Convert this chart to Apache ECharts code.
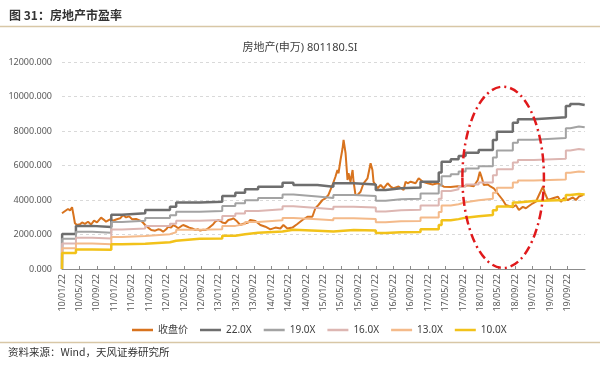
<!DOCTYPE html>
<html><head><meta charset="utf-8">
<script src="https://cdn.jsdelivr.net/npm/echarts@6/dist/echarts.min.js"></script>
<style>html,body{margin:0;padding:0;background:#fff}#c{width:600px;height:368px}</style>
</head><body><div id="c"></div>
<script>
// ---- Data ----
const figureTitle = '图 31：房地产市盈率';
const chartTitle = '房地产(申万) 801180.SI';
const sourceNote = '资料来源：Wind，天风证券研究所';
const seriesNames = ['收盘价', '22.0X', '19.0X', '16.0X', '13.0X', '10.0X'];

const priceDates = [
'2010-01-22','2010-02-06','2010-02-19','2010-03-03','2010-03-17','2010-04-01','2010-04-11','2010-04-21','2010-05-05','2010-05-26','2010-06-10','2010-06-30','2010-07-21','2010-08-12','2010-09-02','2010-09-23','2010-10-21','2010-11-11','2010-11-25','2010-12-23',
'2011-01-13','2011-02-04','2011-03-02','2011-03-22','2011-04-13','2011-05-04','2011-05-25','2011-06-22','2011-07-20','2011-08-04','2011-08-24','2011-09-15','2011-10-06','2011-11-03','2011-11-24','2011-12-08','2011-12-28',
'2012-01-19','2012-02-03','2012-02-23','2012-03-07','2012-03-28','2012-04-12','2012-05-02','2012-05-16','2012-06-07','2012-06-28','2012-07-18','2012-08-09','2012-08-29','2012-09-13','2012-10-04','2012-10-18','2012-11-08','2012-11-22','2012-12-13','2012-12-27',
'2013-01-17','2013-02-01','2013-02-15','2013-03-06','2013-03-27','2013-04-17','2013-05-01','2013-05-22','2013-06-19','2013-07-10','2013-07-24','2013-08-14','2013-08-28','2013-10-03','2013-11-07','2013-12-12',
'2014-01-16','2014-02-21','2014-03-25','2014-04-16','2014-05-13','2014-06-18','2014-07-22','2014-08-27','2014-10-01','2014-11-05','2014-11-26','2014-12-17',
'2015-01-15','2015-02-05','2015-02-26','2015-03-24','2015-04-14','2015-04-28','2015-05-05','2015-05-19','2015-06-03','2015-06-10','2015-06-24','2015-07-07','2015-07-14','2015-07-28','2015-08-12','2015-08-19','2015-09-02','2015-09-16','2015-10-07','2015-10-28','2015-11-25','2015-12-16','2015-12-29',
'2016-01-06','2016-02-04','2016-02-25','2016-03-16','2016-04-13','2016-05-04','2016-05-25','2016-06-29','2016-08-03','2016-08-17','2016-09-01','2016-09-22','2016-10-26','2016-11-17','2016-12-15',
'2017-01-19','2017-02-23','2017-03-28','2017-04-19','2017-05-10','2017-06-28','2017-08-16','2017-09-20','2017-10-25','2017-12-06',
'2018-01-04','2018-01-18','2018-02-01','2018-02-15','2018-03-13','2018-04-03','2018-04-24','2018-05-29','2018-06-26','2018-07-17','2018-08-07','2018-09-05','2018-09-26','2018-10-17','2018-11-14','2018-12-05','2018-12-26',
'2019-01-23','2019-02-14','2019-03-05','2019-04-02','2019-04-16','2019-05-06','2019-06-11','2019-07-16','2019-08-06','2019-08-27','2019-09-24','2019-10-29','2019-11-19','2019-12-10','2020-01-08'
];
const priceValues = [
3230,3320,3250,3480,3400,3580,3130,2650,2550,2600,2700,2620,2740,2580,2800,2700,2980,2850,2740,2880,
2800,2870,2940,3130,2990,3050,2880,2900,2800,2740,2550,2400,2260,2220,2300,2280,2160,
2300,2450,2400,2550,2450,2360,2480,2550,2480,2400,2350,2260,2300,2230,2280,2260,2350,2450,2600,2740,
2840,2780,2700,2650,2840,2880,2940,2800,2550,2620,2650,2700,2840,2780,2550,2450,
2300,2400,2350,2550,2350,2400,2610,2840,3030,3030,3520,3710,
4000,4100,4290,4870,5350,5740,5550,6320,7000,7480,6710,5160,5550,5060,5740,5060,4290,4290,4480,4970,5260,6130,5740,
5060,4680,4870,4680,4970,4780,4680,4780,4580,5060,4970,5060,4970,5260,5060,
4970,4900,4970,4870,4770,4750,4800,4770,4850,4800,
5160,5640,5300,4870,4900,4770,4680,4290,4000,3710,3650,3580,3710,3420,3600,3520,3650,
3810,3900,4290,4770,4400,4000,4100,4190,3900,4100,4000,4150,4000,4200,4290
];

const bandDates = [
'2010-01-22','2010-01-23','2010-04-28','2010-08-20','2011-01-01','2011-03-15','2011-08-25','2012-02-15','2012-03-28','2012-09-10',
'2013-02-15','2013-05-15','2013-07-22','2013-10-22','2014-04-10','2014-06-25','2014-12-10','2015-03-30','2015-08-20','2016-01-22',
'2016-03-30','2016-07-15','2016-11-30','2017-04-05','2017-04-25','2017-06-28','2017-08-22','2017-10-10','2018-01-10','2018-04-18',
'2018-05-15','2018-09-05','2018-10-10','2019-01-30','2019-09-10','2019-10-10','2019-12-10','2020-01-20'
];
const band22 = [0,2030,2500,2440,3150,3230,3420,3610,3850,3900,4230,4420,4620,4770,5000,4870,4770,4970,4900,4580,4680,4720,5060,5600,6220,6360,6550,6740,6900,7480,7960,8480,8680,8790,9450,9570,9510,9510];
const band19 = [0,1753,2159,2107,2720,2790,2954,3118,3325,3368,3653,3817,3990,4120,4318,4206,4120,4292,4232,3955,4042,4076,4370,4836,5372,5493,5657,5821,5959,6460,6875,7324,7496,7591,8161,8265,8213,8213];
const band16 = [0,1476,1818,1775,2291,2349,2487,2625,2800,2836,3076,3215,3360,3469,3636,3542,3469,3615,3564,3331,3404,3433,3680,4073,4524,4625,4764,4902,5018,5440,5789,6167,6313,6393,6873,6960,6916,6916];
const band13 = [0,1200,1477,1442,1861,1909,2021,2133,2275,2305,2500,2612,2730,2819,2955,2878,2819,2937,2895,2706,2765,2789,2990,3309,3675,3758,3870,3983,4077,4420,4704,5011,5129,5194,5584,5655,5620,5620];
const band10 = [0,923,1136,1109,1432,1468,1555,1641,1750,1773,1923,2009,2100,2168,2273,2214,2168,2259,2227,2082,2127,2145,2300,2545,2827,2891,2977,3064,3136,3400,3618,3855,3945,3995,4295,4350,4323,4323];

// annotation ellipse bounds (date range, value range)
const ellipseFrom = '2017-09-18', ellipseTo = '2019-04-09', ellipseLow = 60, ellipseHigh = 10570;

// ---- Helpers ----
function toM(s){ const p = s.split('-').map(Number); return (p[0]-2010)*12 + (p[1]-1) + (p[2]-22)/30.44; }
function pairs(dates, vals){ return dates.map((d,i)=>[toM(d), vals[i]]); }
function xLabel(v){ const yy = 10 + Math.floor(v/12); const mm = (v % 12) + 1; return yy + '/' + String(mm).padStart(2,'0') + '/22'; }

const colors = ['#D8731E','#6E6E6E','#A3A3A3','#DDB6B2','#F4BA8A','#F2C21A'];
const widths = [2, 2.5, 2, 2, 2, 2.5];
const bands = [band22, band19, band16, band13, band10];

const chart = echarts.init(document.getElementById('c'), null, {renderer:'canvas'});
const series = [{
  name: seriesNames[0], type: 'line', symbol: 'none', animation: false,
  data: pairs(priceDates, priceValues),
  lineStyle: {color: colors[0], width: widths[0]}, itemStyle: {color: colors[0]}
}];
bands.forEach((b, i) => series.push({
  name: seriesNames[i+1], type: 'line', symbol: 'none', animation: false, step: 'end',
  data: pairs(bandDates, b),
  lineStyle: {color: colors[i+1], width: widths[i+1]}, itemStyle: {color: colors[i+1]}
}));

chart.setOption({
  animation: false,
  textStyle: {fontFamily: '"Noto Sans", "Noto Sans CJK SC", sans-serif'},
  title: {text: chartTitle, left: 'center', top: 37, textStyle: {fontSize: 11, fontWeight: 'normal', color: '#404040'}},
  legend: {
    data: seriesNames.map(n => ({name: n, icon: 'rect'})), left: 127, top: 320, itemWidth: 21, itemHeight: 2.5, itemGap: 12,
    textStyle: {fontSize: 10, color: '#404040'}
  },
  grid: {left: 62, right: 15, top: 62, bottom: 99, containLabel: false, outerBoundsMode: 'none'},
  xAxis: {
    type: 'value', min: 0, max: 120, interval: 4,
    axisLine: {lineStyle: {color: '#8c8c8c', width: 1}},
    axisTick: {show: true, inside: true, length: 3, lineStyle: {color: '#8c8c8c'}},
    splitLine: {show: false},
    axisLabel: {rotate: 90, fontSize: 9, color: '#595959', margin: 5, showMaxLabel: false, showMinLabel: true, formatter: xLabel}
  },
  yAxis: {
    type: 'value', min: 0, max: 12000, interval: 2000,
    axisLine: {show: false}, axisTick: {show: false},
    splitLine: {lineStyle: {color: '#d9d9d9', type: [3, 3]}},
    axisLabel: {fontSize: 9, color: '#595959', margin: 10, formatter: v => v.toFixed(3)}
  },
  series: series
});

const p1 = chart.convertToPixel({gridIndex: 0}, [toM(ellipseFrom), ellipseHigh]);
const p2 = chart.convertToPixel({gridIndex: 0}, [toM(ellipseTo), ellipseLow]);
chart.setOption({
  graphic: [
    {type: 'text', left: 9, top: 9, style: {text: figureTitle, fontSize: 12, fontWeight: 'bold', fill: '#333', fontFamily: '"Noto Sans CJK SC", sans-serif'}},
    {type: 'line', shape: {x1: 0, y1: 26.5, x2: 600, y2: 26.5}, style: {stroke: '#d8c7a6', lineWidth: 1.5}},
    {type: 'line', shape: {x1: 0, y1: 342.5, x2: 600, y2: 342.5}, style: {stroke: '#d8c7a6', lineWidth: 1.5}},
    {type: 'text', left: 8, top: 347, style: {text: sourceNote, fontSize: 10.5, fill: '#333', fontFamily: '"Noto Sans CJK SC", sans-serif'}},
    {type: 'ellipse', z: 100, shape: {cx: (p1[0]+p2[0])/2, cy: (p1[1]+p2[1])/2, rx: Math.abs(p2[0]-p1[0])/2, ry: Math.abs(p2[1]-p1[1])/2},
     style: {fill: 'none', stroke: '#E0191B', lineWidth: 2.5, lineDash: [9, 4, 2, 4]}}
  ]
});
</script></body></html>
